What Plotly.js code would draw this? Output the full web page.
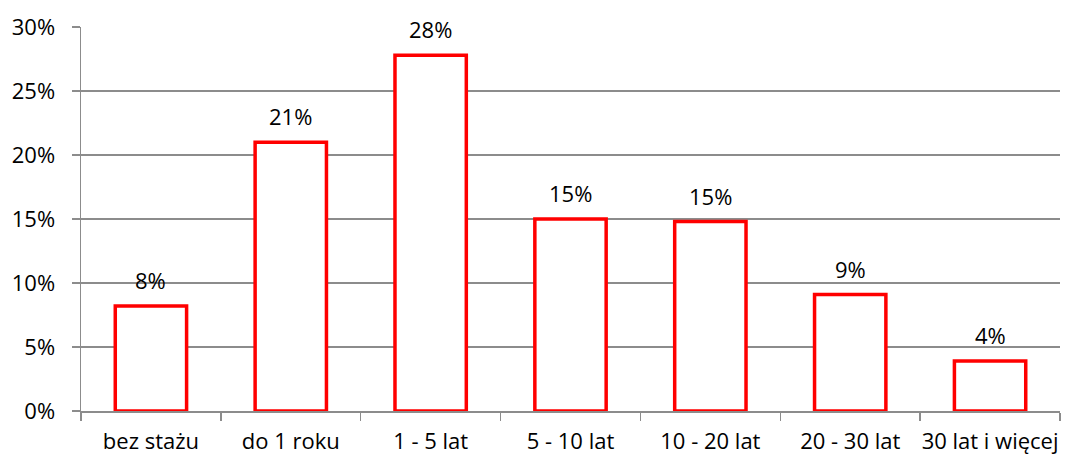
<!DOCTYPE html>
<html><head><meta charset="utf-8">
<script src="https://cdn.plot.ly/plotly-3.0.1.min.js"></script>
<style>body{margin:0}#c{width:1067px;height:457px}</style>
</head><body><div id="c"></div>
<script>
var categories = ["bez stażu","do 1 roku","1 - 5 lat","5 - 10 lat","10 - 20 lat","20 - 30 lat","30 lat i więcej"];
var values = [0.082, 0.210, 0.278, 0.150, 0.148, 0.091, 0.039];
var yTickVals = [0, 0.05, 0.10, 0.15, 0.20, 0.25, 0.30];
var yTickText = ["0%","5%","10%","15%","20%","25%","30%"];

var font = {family: "'Open Sans', Lato, sans-serif", size: 22, color: "#000"};
var trace = {
  type: "bar", x: categories, y: values, width: 0.51,
  marker: {color: "#ffffff", line: {color: "#ff0000", width: 3.5}},
  hoverinfo: "none"
};
var annotations = categories.map(function(c, i){
  return {x: c, y: values[i], text: Math.round(values[i]*100) + "%",
    showarrow: false, yanchor: "bottom", yshift: 9, font: font};
});
var grid = "#8c8c8c";
var layout = {
  width: 1067, height: 457,
  margin: {l: 81, r: 7, t: 27, b: 46, autoexpand: false},
  paper_bgcolor: "#fff", plot_bgcolor: "#fff",
  showlegend: false, font: font,
  xaxis: {type: "category", showline: true, linecolor: grid, linewidth: 1.5,
    ticks: "outside", tickson: "boundaries", ticklen: 8, tickcolor: grid, tickwidth: 1.5,
    tickangle: 0, automargin: false,
    showgrid: false, tickfont: font, ticklabelstandoff: 10, fixedrange: true},
  yaxis: {range: [0, 0.30], tickvals: yTickVals, ticktext: yTickText,
    showline: true, linecolor: grid, linewidth: 1.5,
    ticks: "outside", ticklen: 8, tickcolor: grid, tickwidth: 1.5,
    showgrid: true, gridcolor: grid, gridwidth: 1.5, zeroline: false,
    ticklabelstandoff: 12, tickfont: font, fixedrange: true},
  annotations: annotations
};
Plotly.newPlot("c", [trace], layout, {displayModeBar: false, staticPlot: true});
</script></body></html>
